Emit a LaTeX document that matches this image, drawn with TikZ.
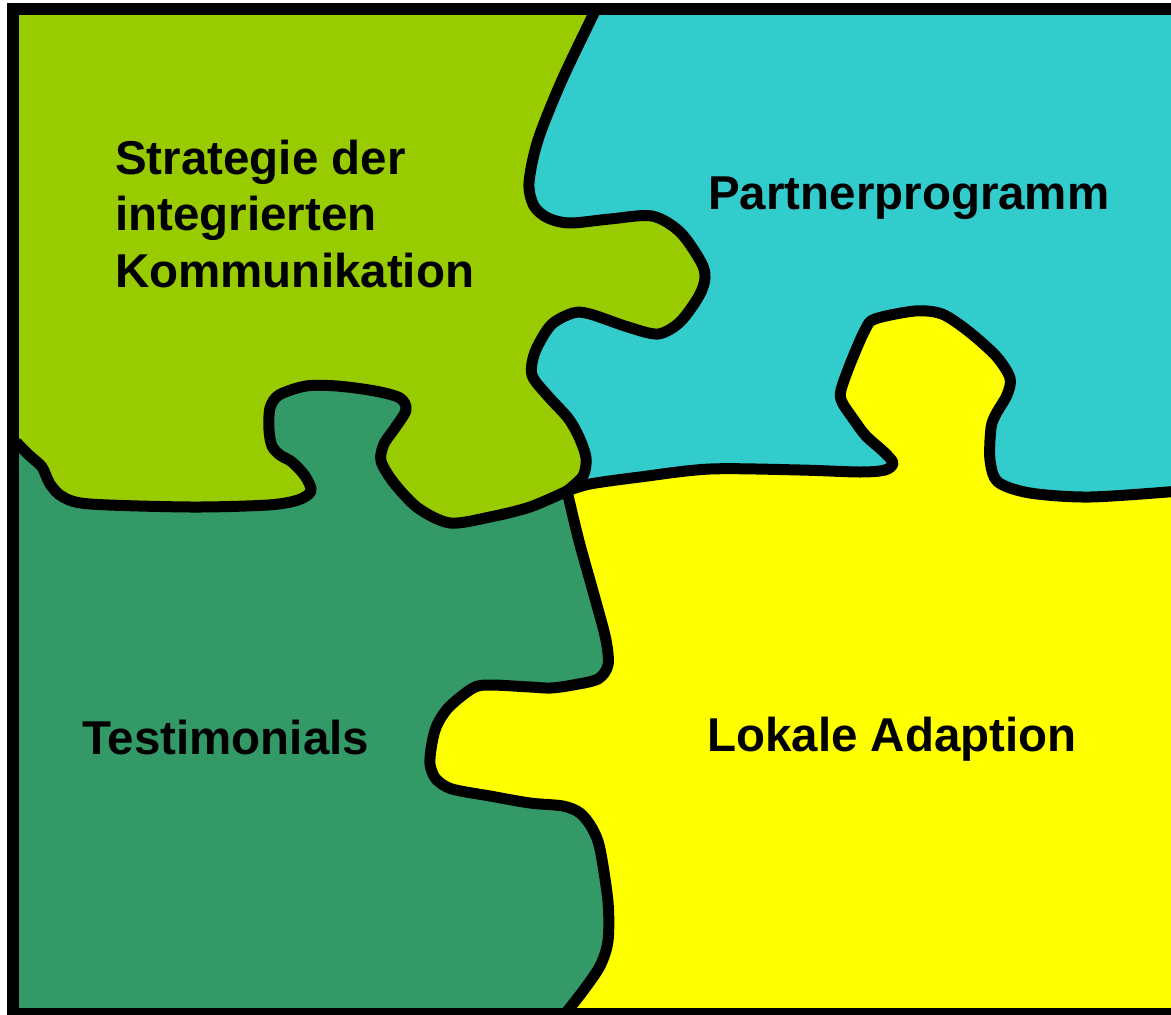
\documentclass[tikz,border=0pt]{standalone}
\usepackage{fontspec}
\setmainfont{Liberation Sans}
\definecolor{pzgreen}{HTML}{99CC00}
\definecolor{pzcyan}{HTML}{33CCCC}
\definecolor{pzdark}{HTML}{339966}
\definecolor{pzyellow}{HTML}{FFFF00}
\tikzset{
  edgeline/.style={line width=11pt, line cap=round, line join=round, black},
  framebox/.style={line width=12pt, black},
  lbl/.style={inner sep=0pt, font=\bfseries\fontsize{47.5}{56.5}\selectfont, align=left, anchor=base west},
}
\def\curveA{(596,9) (562,80) (538,140) (529,183) (534,206) (548,218) (570,223) (610,219) (652,216) (680,232) (701,262) (705,278) (699,296) (680,322) (658,334) (628,327) (590,314) (573,313) (551,325) (535,352) (532,375) (547,395) (568,418) (579,437) (586,458) (583,476) (567,491)}
\def\curveAr{(567,491) (583,476) (586,458) (579,437) (568,418) (547,395) (532,375) (535,352) (551,325) (573,313) (590,314) (628,327) (658,334) (680,322) (699,296) (705,278) (701,262) (680,232) (652,216) (610,219) (570,223) (548,218) (534,206) (529,183) (538,140) (562,80) (596,9)}
\def\curveB{(567,491) (590,484) (640,477) (710,469) (800,470) (860,472) (885,470) (893,463) (884,452) (866,436) (854,420) (842,402) (841,390) (851,362) (865,330) (875,319) (915,311) (942,314) (968,331) (996,356) (1010,378) (1007,395) (996,414) (991,428) (990,460) (998,482) (1030,493) (1090,497) (1180,491)}
\def\curveC{(17,443) (30,456) (42,467) (50,484) (63,497) (90,504) (191,507) (268,505) (298,500) (311,491) (305,476) (292,462) (280,455) (272,446) (269,430) (270,408) (279,395) (306,386) (337,386) (375,391) (400,398) (406,410) (395,428) (384,444) (381,461) (394,483) (418,508) (450,523) (490,517) (530,507) (567,491)}
\def\curveD{(567,491) (579,541) (596,602) (606,640) (608,665) (598,679) (573,685) (551,688) (530,687) (490,685) (473,688) (449,707) (437,725) (432,743) (430,764) (436,779) (452,789) (490,796) (530,803) (563,806) (580,813) (592,828) (600,849) (608,902) (608,941) (600,966) (583,991) (565,1014)}
\begin{document}
\begin{tikzpicture}[x=1pt,y=-1pt]
\useasboundingbox (0,0) rectangle (1171,1015);
\clip (0,0) rectangle (1171,1015);
% yellow base
\fill[pzyellow] (13,9) rectangle (1180,1014);
% dark green piece
\fill[pzdark] (13,1014) -- (13,443) -- plot[smooth] coordinates \curveC -- plot[smooth] coordinates \curveD -- cycle;
% cyan piece
\fill[pzcyan] (596,9) -- plot[smooth] coordinates \curveA -- plot[smooth] coordinates \curveB -- (1180,9) -- cycle;
% green piece
\fill[pzgreen] (13,9) -- (13,443) -- plot[smooth] coordinates \curveC -- plot[smooth] coordinates \curveAr -- cycle;
% outlines
\draw[edgeline] plot[smooth] coordinates \curveA;
\draw[edgeline] plot[smooth] coordinates \curveB;
\draw[edgeline] plot[smooth] coordinates \curveC;
\draw[edgeline] plot[smooth] coordinates \curveD;
\draw[framebox] (1190,9) -- (13,9) -- (13,1014) -- (1190,1014);
% labels
\node[lbl] (strat) at (115,287) {Strategie der\\integrierten\\Kommunikation};
\node[lbl] (partner) at (708,209) {Partnerprogramm};
\node[lbl] (testi) at (82,754) {Testimonials};
\node[lbl] (lokal) at (707,751) {Lokale Adaption};
\end{tikzpicture}
\end{document}
